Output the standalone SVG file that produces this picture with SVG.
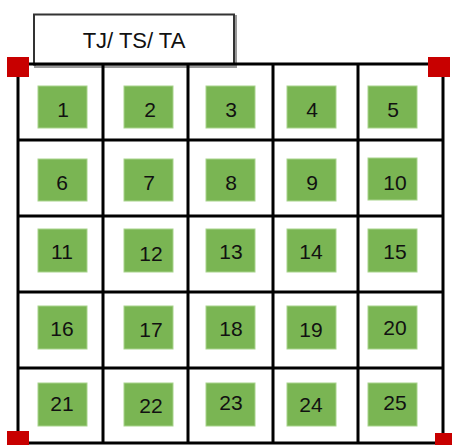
<svg xmlns="http://www.w3.org/2000/svg" width="452" height="445" viewBox="0 0 452 445">
<style>
.g{fill:#7ab553;stroke:#a8d38c;stroke-width:1}
.n{font-family:"Liberation Sans",Arial,sans-serif;font-size:21px;fill:#111;text-anchor:middle}
.ln{stroke:#000;stroke-width:3;fill:none}
.red{fill:#c80000}
</style>
<rect width="452" height="445" fill="#fff"/>
<g id="title">
<rect x="35" y="16" width="201" height="51" fill="none" stroke="#999" stroke-width="2"/>
<rect x="34" y="14.5" width="200" height="50" fill="#fff" stroke="#333" stroke-width="2"/>
<text x="134" y="48" font-family="'Liberation Sans',Arial,sans-serif" font-size="22" text-anchor="middle" fill="#111">TJ/ TS/ TA</text>
</g>
<g id="grid">
<path class="ln" d="M18,64H443M18,140H443M18,216H443M18,292H443M18,368H443M18,443H443M18,64V443M103,64V443M188,64V443M273,64V443M358,64V443M443,64V443"/>
</g>
<g id="corners">
<rect class="red" x="7" y="57" width="22" height="20"/>
<rect class="red" x="428" y="57" width="22" height="20"/>
<rect class="red" x="7" y="431" width="22" height="14"/>
<rect class="red" x="435" y="433" width="17" height="12"/>
</g>
<g id="c1"><rect class="g" x="38" y="86" width="49" height="42"/><text class="n" x="63" y="117">1</text></g>
<g id="c2"><rect class="g" x="124" y="86" width="49" height="42"/><text class="n" x="150" y="117">2</text></g>
<g id="c3"><rect class="g" x="206" y="86" width="49" height="42"/><text class="n" x="231" y="117">3</text></g>
<g id="c4"><rect class="g" x="287" y="86" width="49" height="42"/><text class="n" x="312" y="117">4</text></g>
<g id="c5"><rect class="g" x="368" y="86" width="49" height="42"/><text class="n" x="393" y="117">5</text></g>
<g id="c6"><rect class="g" x="38" y="159" width="49" height="42"/><text class="n" x="62" y="190">6</text></g>
<g id="c7"><rect class="g" x="124" y="159" width="49" height="42"/><text class="n" x="149" y="190">7</text></g>
<g id="c8"><rect class="g" x="206" y="159" width="49" height="42"/><text class="n" x="231" y="190">8</text></g>
<g id="c9"><rect class="g" x="287" y="159" width="49" height="42"/><text class="n" x="312" y="190">9</text></g>
<g id="c10"><rect class="g" x="368" y="158" width="49" height="42"/><text class="n" x="395" y="190" font-size="24">10</text></g>
<g id="c11"><rect class="g" x="38" y="229" width="49" height="43"/><text class="n" x="62" y="259">11</text></g>
<g id="c12"><rect class="g" x="124" y="229" width="49" height="43"/><text class="n" x="151" y="261">12</text></g>
<g id="c13"><rect class="g" x="206" y="229" width="49" height="43"/><text class="n" x="231" y="259">13</text></g>
<g id="c14"><rect class="g" x="287" y="229" width="49" height="43"/><text class="n" x="311" y="259">14</text></g>
<g id="c15"><rect class="g" x="368" y="229" width="49" height="43"/><text class="n" x="395" y="259">15</text></g>
<g id="c16"><rect class="g" x="38" y="306" width="49" height="43"/><text class="n" x="62" y="336">16</text></g>
<g id="c17"><rect class="g" x="124" y="306" width="49" height="43"/><text class="n" x="151" y="337">17</text></g>
<g id="c18"><rect class="g" x="206" y="306" width="49" height="43"/><text class="n" x="231" y="336">18</text></g>
<g id="c19"><rect class="g" x="287" y="306" width="49" height="43"/><text class="n" x="311" y="337">19</text></g>
<g id="c20"><rect class="g" x="368" y="306" width="49" height="43"/><text class="n" x="395" y="335">20</text></g>
<g id="c21"><rect class="g" x="38" y="383" width="49" height="43"/><text class="n" x="62" y="411">21</text></g>
<g id="c22"><rect class="g" x="124" y="383" width="49" height="43"/><text class="n" x="151" y="413">22</text></g>
<g id="c23"><rect class="g" x="206" y="383" width="49" height="43"/><text class="n" x="231" y="410">23</text></g>
<g id="c24"><rect class="g" x="287" y="383" width="49" height="43"/><text class="n" x="311" y="412">24</text></g>
<g id="c25"><rect class="g" x="368" y="383" width="49" height="43"/><text class="n" x="395" y="410">25</text></g>
</svg>
